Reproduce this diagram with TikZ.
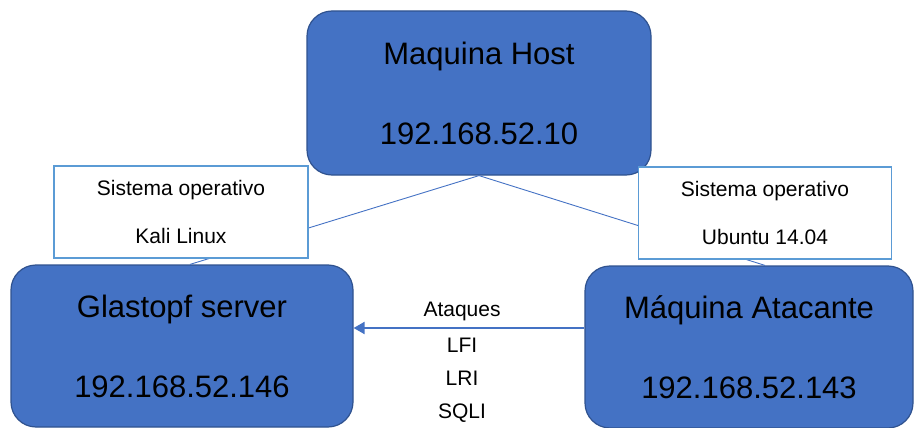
\documentclass[tikz,border=0pt]{standalone}
\usepackage{fontspec}
\setmainfont{Liberation Sans}
\usetikzlibrary{arrows.meta,positioning}
\definecolor{boxblue}{HTML}{4472C4}
\definecolor{boxedge}{HTML}{2F528F}
\definecolor{tagedge}{HTML}{5B9BD5}
\tikzset{machine/.style={rectangle,rounded corners=25pt,fill=boxblue,draw=boxedge,line width=1.2pt,inner sep=0pt,align=center,font=\fontsize{31}{80}\selectfont}}
\tikzset{osbox/.style={rectangle,fill=white,draw=tagedge,line width=1.6pt,inner sep=0pt,align=center,font=\fontsize{21}{48}\selectfont}}
\tikzset{link/.style={draw=boxblue,line width=0.9pt}}

\begin{document}
\begin{tikzpicture}[x=1pt,y=1pt]
\useasboundingbox (0,0) rectangle (914,-428);
% machines
\node (host) [machine,minimum width=344pt,minimum height=164pt] at (479,-93) {Maquina Host\\192.168.52.10};
\node (glas) [machine,minimum width=342pt,minimum height=162pt] at (182,-346) {Glastopf server\\192.168.52.146};
\node (atk) [machine,minimum width=328pt,minimum height=162pt] at (749,-347) {Máquina Atacante\\192.168.52.143};
%
\path[link] (host.south) edge ([xshift=8pt]glas.north);
\path[link] (host.south) edge ([xshift=16pt]atk.north);
% sistemas operativos
\node (oskali) [osbox,minimum width=254pt,minimum height=92pt] at (181,-212) {Sistema operativo\\Kali Linux};
\node (osubuntu) [osbox,minimum width=253pt,minimum height=92pt] at (765,-213) {Sistema operativo\\Ubuntu 14.04};
%
\draw[-{Triangle[length=11pt,width=12pt]},boxblue,line width=2pt]
  ([yshift=19pt]atk.west) -- node[pos=0.53,above=4pt,inner sep=2pt,text=black,font=\fontsize{21}{33}\selectfont] {Ataques}
  node[pos=0.53,below=7.5pt,inner sep=2pt,align=center,text=black,font=\fontsize{21}{33}\selectfont] {LFI\\LRI\\SQLI} ([yshift=18pt]glas.east);
\end{tikzpicture}
\end{document}
